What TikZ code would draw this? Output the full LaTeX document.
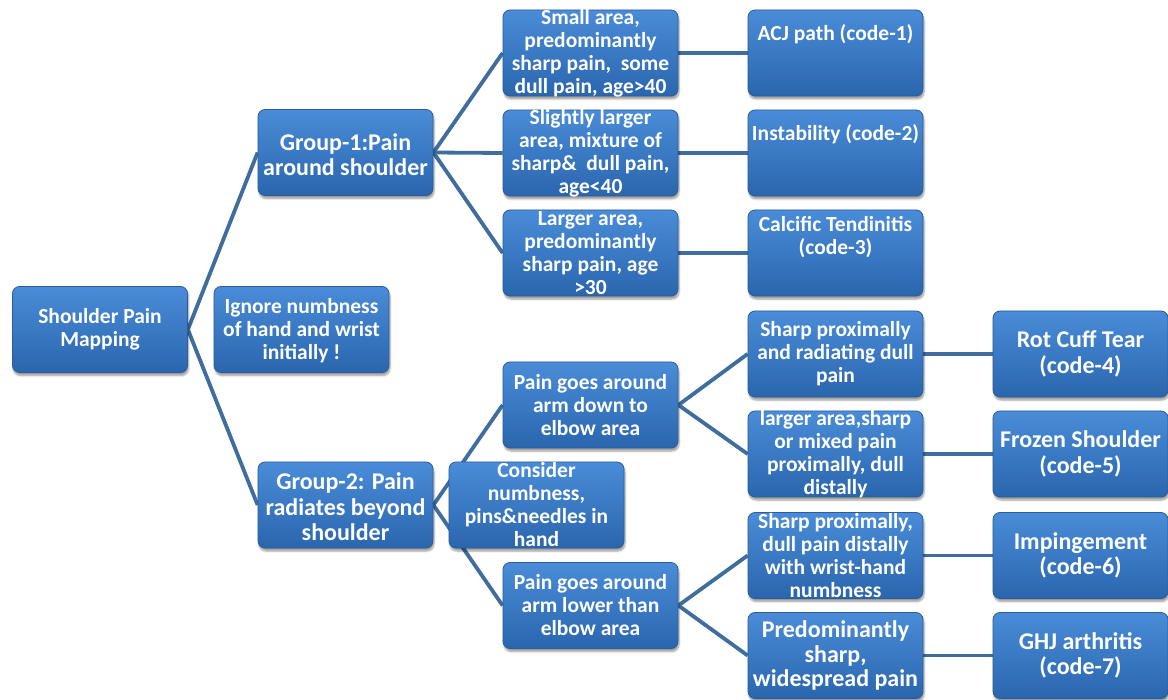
\documentclass[tikz,border=0pt]{standalone}
\usepackage{fontspec}
\setmainfont{Carlito}
\usetikzlibrary{shadows.blur,calc}
\definecolor{boxtop}{HTML}{4A8CD8}
\definecolor{boxbot}{HTML}{2A66AE}
\definecolor{boxedge}{HTML}{2A5D9A}
\definecolor{linkc}{HTML}{3F6D9E}
\pgfdeclarelayer{bg}
\pgfsetlayers{bg,main}
\tikzset{
  box/.style={draw=boxedge, line width=0.8pt, rounded corners=7pt,
    top color=boxtop, bottom color=boxbot,
    minimum width=175pt, minimum height=86pt, inner sep=0pt,
    blur shadow={shadow xshift=1pt, shadow yshift=-3pt, shadow blur steps=5, shadow opacity=40}},
  txt/.style={text=white, font=\bfseries\fontsize{21.5}{23}\selectfont, align=center, inner sep=0pt},
  mid/.style={txt, font=\bfseries\fontsize{24}{24.5}\selectfont},
  big/.style={txt, font=\bfseries\fontsize{24}{25.5}\selectfont},
  link/.style={draw=linkc, line width=3.8pt}
}
\begin{document}
\begin{tikzpicture}[x=1pt,y=-1pt]
\useasboundingbox (0,0) rectangle (1168,700);
% boxes
\node[box] (root) at (100,329.5) {};
\node[box] (ign) at (301.5,329.5) {};
\node[box] (g1) at (345.5,152.5) {};
\node[box] (g2) at (345.5,505) {};
\node[box] (a1) at (590.5,53) {};
\node[box] (a2) at (590.5,153) {};
\node[box] (a3) at (590.5,253) {};
\node[box] (c1) at (835.5,53) {};
\node[box] (c2) at (835.5,153) {};
\node[box] (c3) at (835.5,253) {};
\node[box] (b1) at (590.5,405) {};
\node[box] (cons) at (536.5,505) {};
\node[box] (b2) at (590.5,605.5) {};
\node[box] (d1) at (835.5,354) {};
\node[box] (d2) at (835.5,454) {};
\node[box] (d3) at (835.5,555.5) {};
\node[box] (d4) at (835.5,655.5) {};
\node[box] (e1) at (1080.5,354) {};
\node[box] (e2) at (1080.5,454) {};
\node[box] (e3) at (1080.5,555.5) {};
\node[box] (e4) at (1080.5,655.5) {};
% texts
\node[txt] (troot) at ($(root.center)+(0,0)$) {Shoulder Pain\\Mapping};
\node[txt] (tign) at ($(ign.center)+(0,1.5)$) {Ignore numbness\\of hand and wrist\\initially !};
\node[big] (tg1) at ($(g1.center)+(0,2)$) {Group-1:Pain\\around shoulder};
\node[big] (tg2) at ($(g2.center)+(0,2)$) {Group-2: Pain\\radiates beyond\\shoulder};
\node[txt] (ta1) at (a1.center) {Small area,\\predominantly\\sharp pain,\ \ some\\dull pain, age>40};
\node[txt] (ta2) at (a2.center) {Slightly larger\\area, mixture of\\sharp\&\ \ dull pain,\\age<40};
\node[txt] (ta3) at (a3.center) {Larger area,\\predominantly\\sharp pain, age\\>30};
\node[txt] (tc1) at ($(c1.north)+(0,25)$) {ACJ path (code-1)};
\node[txt] (tc2) at ($(c2.north)+(0,25)$) {Instability (code-2)};
\node[txt] (tc3) at ($(c3.north)+(0,27)$) {Calcific Tendinitis\\(code-3)};
\node[txt] (tb1) at (b1.center) {Pain goes around\\arm down to\\elbow area};
\node[txt] (tcons) at (cons.center) {Consider\\numbness,\\pins\&needles in\\hand};
\node[txt] (tb2) at (b2.center) {Pain goes around\\arm lower than\\elbow area};
\node[txt] (td1) at (d1.center) {Sharp proximally\\and radiating dull\\pain};
\node[txt] (td2) at (d2.center) {larger area,sharp\\or mixed pain\\proximally, dull\\distally};
\node[txt] (td3) at (d3.center) {Sharp proximally,\\dull pain distally\\with wrist-hand\\numbness};
\node[mid] (td4) at (d4.center) {Predominantly\\sharp,\\widespread pain};
\node[big] (te1) at (e1.center) {Rot Cuff Tear\\(code-4)};
\node[big] (te2) at (e2.center) {Frozen Shoulder\\(code-5)};
\node[big] (te3) at (e3.center) {Impingement\\(code-6)};
\node[big] (te4) at (e4.center) {GHJ arthritis\\(code-7)};
% connectors
\begin{pgfonlayer}{bg}
\draw[link] (root.east) -- (g1.west);
\draw[link] (root.east) -- (g2.west);
\draw[link] (g1.east) -- (a1.west);
\draw[link] (g1.east) -- (a2.west);
\draw[link] (g1.east) -- (a3.west);
\draw[link] (a1.east) -- (c1.west);
\draw[link] (a2.east) -- (c2.west);
\draw[link] (a3.east) -- (c3.west);
\draw[link] (g2.east) -- (b1.west);
\draw[link] (g2.east) -- (b2.west);
\draw[link] (b1.east) -- (d1.west);
\draw[link] (b1.east) -- (d2.west);
\draw[link] (b2.east) -- (d3.west);
\draw[link] (b2.east) -- (d4.west);
\draw[link] (d1.east) -- (e1.west);
\draw[link] (d2.east) -- (e2.west);
\draw[link] (d3.east) -- (e3.west);
\draw[link] (d4.east) -- (e4.west);
\end{pgfonlayer}
\end{tikzpicture}
\end{document}
